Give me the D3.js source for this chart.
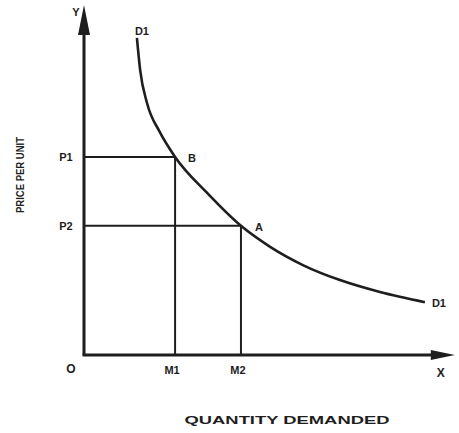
<!DOCTYPE html>
<html><head><meta charset="utf-8">
<script src="https://cdn.jsdelivr.net/npm/d3@7/dist/d3.min.js"></script>
<style>html,body{margin:0;padding:0;background:#fff;}svg{display:block;}</style>
</head><body>
<svg id="c" width="459" height="433"></svg>
<script>
// Demand curve D1 points (quantity, price)
const curveQ = [14.7, 15.6, 17.5, 21.0, 25.3, 34.2, 43.6, 51.7, 60.8, 71.1, 82.2, 94.7];
const curveP = [90.6, 81.4, 72.0, 63.8, 56.6, 46.3, 36.9, 30.9, 25.7, 21.4, 18.0, 15.1];
// Marked points
const pointNames = ["B", "A"];
const pointQ = [25.3, 43.6];
const pointP = [56.6, 36.9];
const qLabels = ["M1", "M2"];
const pLabels = ["P1", "P2"];
const axisMax = {q: 103, p: 100};

const svg = d3.select("#c");
const x = d3.scaleLinear().domain([0, 100]).range([84, 444]);
const y = d3.scaleLinear().domain([0, 100]).range([355, 5]);
const ink = "#1e1e1e";
const font = "'Liberation Sans', Arial, sans-serif";

// guide lines
pointNames.forEach((n, i) => {
  svg.append("line").attr("x1", x(0)).attr("y1", y(pointP[i])).attr("x2", x(pointQ[i])).attr("y2", y(pointP[i]))
    .attr("stroke", ink).attr("stroke-width", 2);
  svg.append("line").attr("x1", x(pointQ[i])).attr("y1", y(pointP[i])).attr("x2", x(pointQ[i])).attr("y2", y(0))
    .attr("stroke", ink).attr("stroke-width", 2);
});

// axes
svg.append("line").attr("x1", x(0)).attr("y1", y(0)).attr("x2", x(0)).attr("y2", y(axisMax.p) + 20)
  .attr("stroke", ink).attr("stroke-width", 3);
svg.append("line").attr("x1", x(0) - 1.5).attr("y1", y(0)).attr("x2", x(axisMax.q) - 20).attr("y2", y(0))
  .attr("stroke", ink).attr("stroke-width", 3);
// arrowheads
const ty = y(axisMax.p), tx = x(axisMax.q);
svg.append("path").attr("d", `M${x(0)},${ty} L${x(0)-6},${ty+30} L${x(0)+6},${ty+30} Z`).attr("fill", ink);
svg.append("path").attr("d", `M${tx},${y(0)} L${tx-24},${y(0)-5} L${tx-24},${y(0)+5} Z`).attr("fill", ink);

// curve
const line = d3.line().x(d => x(d[0])).y(d => y(d[1])).curve(d3.curveMonotoneX);
svg.append("path").datum(curveQ.map((q, i) => [q, curveP[i]])).attr("d", line)
  .attr("fill", "none").attr("stroke", ink).attr("stroke-width", 2.6);

function label(t, px, py, opts = {}) {
  const el = svg.append("text").attr("x", px).attr("y", py).text(t)
    .attr("font-family", font).attr("font-weight", "bold").attr("font-size", opts.size || 11)
    .attr("fill", ink).attr("text-anchor", opts.anchor || "middle").attr("dominant-baseline", "central");
  if (opts.len) el.attr("textLength", opts.len).attr("lengthAdjust", "spacingAndGlyphs");
  if (opts.rot) el.attr("transform", `rotate(${opts.rot},${px},${py})`);
  return el;
}

label("Y", x(0) - 8, 12);
label("O", x(0) - 13, y(0) + 14, {size: 12});
label("X", tx - 14, y(0) + 18, {size: 12});
pLabels.forEach((t, i) => label(t, x(0) - 18, y(pointP[i]), {size: 11}));
qLabels.forEach((t, i) => label(t, x(pointQ[i]) - 3, y(0) + 15, {size: 11}));
pointNames.forEach((t, i) => label(t, x(pointQ[i]) + (i === 0 ? 17 : 18), y(pointP[i]) + 1, {size: 11}));
label("D1", x(curveQ[0]) + 5, y(curveP[0]) - 7, {size: 11});
label("D1", x(curveQ[curveQ.length - 1]) + 14, y(curveP[curveP.length - 1]) + 1, {size: 11});
label("QUANTITY DEMANDED", 287, 420, {size: 11, len: 205});
label("PRICE PER UNIT", 20, 175, {size: 11, len: 76, rot: -90});
</script>
</body></html>
